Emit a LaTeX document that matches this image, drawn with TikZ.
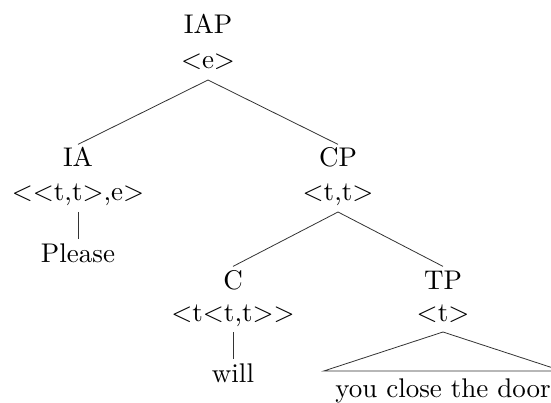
\documentclass[tikz,border=0pt]{standalone}
\usepackage{fontspec}
\setmainfont{lmroman10-regular.otf}
\begin{document}
\begin{tikzpicture}[x=1pt,y=-1pt,
  every node/.style={inner sep=0pt, font=\fontsize{27}{32}\selectfont},
  cat/.style={anchor=base, text height=18.6pt, outer ysep=4pt},
  typ/.style={anchor=base, text depth=0pt, outer ysep=11pt},
  br/.style={line width=0.8pt, draw=black!80}]
\useasboundingbox (0,0) rectangle (551,403);
\node[cat] (iap) at (208,34) {IAP};
\node[typ] (iapt) at (208,69) {<e>};
\node[cat] (ia) at (78,167) {IA};
\node[typ] (iat) at (78,201) {<{}<t,t>,e>};
\node[cat] (please) at (78,262) {Please};
\node[cat] (cp) at (338,167) {CP};
\node[typ] (cpt) at (338,201) {<t,t>};
\node[cat] (c) at (233,289) {C};
\node[typ] (ct) at (233,321) {<t<t,t>{}>};
\node[cat] (will) at (233,382) {will};
\node[cat] (tp) at (443,289) {TP};
\node[typ] (tpt) at (443,321) {<t>};
\node[anchor=base, inner xsep=11.5pt] (door) at (443,397.5) {you close the door};
\coordinate (dl) at ([yshift=7.5pt]door.north west);
\coordinate (dr) at ([yshift=7.5pt]door.north east);
\draw[br] (iapt.south) -- (ia.north);
\draw[br] (iapt.south) -- (cp.north);
\draw[br] (iat.south) -- (please.north);
\draw[br] (cpt.south) -- (c.north);
\draw[br] (cpt.south) -- (tp.north);
\draw[br] (ct.south) -- (will.north);
\draw[br] (dl) -- (tpt.south) -- (dr) -- cycle;
\end{tikzpicture}
\end{document}
